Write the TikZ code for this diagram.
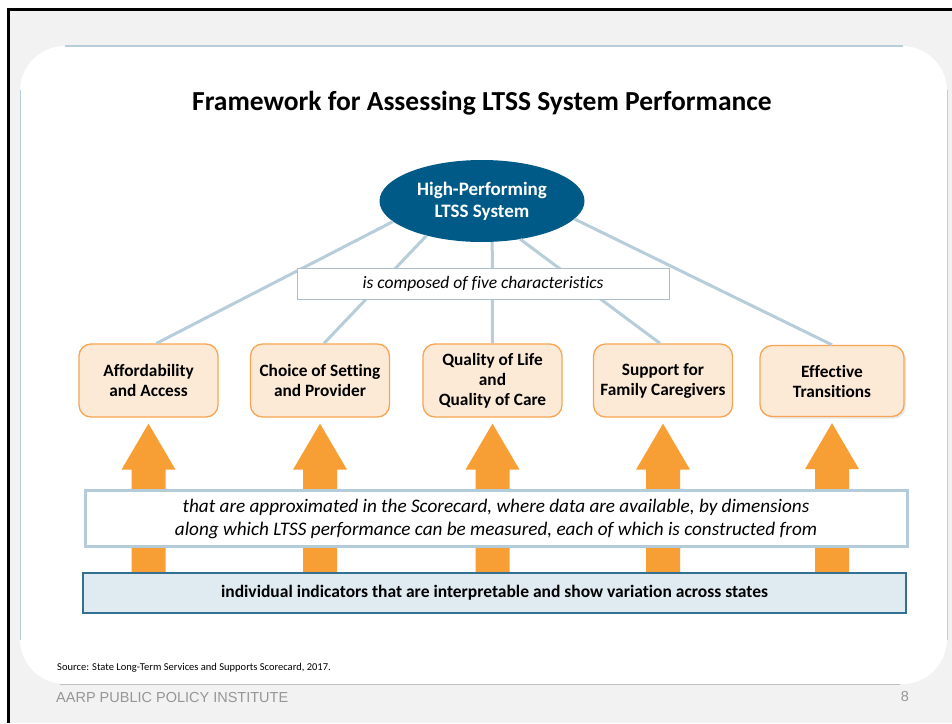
\documentclass[tikz,border=0pt]{standalone}
\usepackage{fontspec}
\setmainfont{Carlito}[Ligatures=NoCommon]
\newfontfamily\arialfont{Liberation Sans}
\usetikzlibrary{shapes.geometric,shadows,calc}
\definecolor{slidegrey}{RGB}{242,242,242}
\definecolor{sysblue}{RGB}{0,90,135}
\definecolor{linkblue}{RGB}{183,206,218}
\definecolor{boxorange}{RGB}{247,165,82}
\definecolor{boxpeach}{RGB}{253,234,214}
\definecolor{arroworange}{RGB}{247,158,52}
\definecolor{apxedge}{RGB}{180,204,218}
\definecolor{compedge}{RGB}{170,190,205}
\definecolor{indfill}{RGB}{223,234,241}
\definecolor{indedge}{RGB}{52,112,145}
\definecolor{footgrey}{RGB}{150,150,150}
\begin{document}
\begin{tikzpicture}[x=1pt,y=-1pt,
  linkline/.style={draw=linkblue,line width=3pt},
  charbox/.style={draw=boxorange,line width=1.3pt,fill=boxpeach,rounded corners=12pt,
    minimum width=139pt,minimum height=73pt,inner sep=0pt,align=center,
    font=\fontsize{17.3}{20}\selectfont\bfseries},
  fatarrow/.style={fill=arroworange}]
% Fondo
\useasboundingbox (0,0) rectangle (952,723);
\fill[white] (0,0) rectangle (952,723);
\fill[slidegrey] (8,9) rectangle (952,723);
\draw[black,line width=3pt] (8,723) -- (8,9) -- (952,9);
\fill[white,rounded corners=45pt] (20,46) rectangle (947,684);
\draw[linkblue,line width=1.2pt] (65,46) -- (903,46);
\draw[linkblue,line width=0.8pt] (20,90) -- (20,640);
\draw[black!20,line width=0.8pt] (947,90) -- (947,640);
\draw[black!25,line width=1pt] (60,684) -- (900,684);
% Titulo
\node (Title) at (482,103) {\fontsize{27.5}{32}\selectfont\bfseries Framework for Assessing LTSS System Performance};
% Sistema
\node[ellipse,fill=sysblue,text=white,minimum width=205pt,minimum height=82pt,inner sep=0pt,
  align=center,font=\fontsize{19}{22}\selectfont\bfseries] (System) at (482,201)
  {High-Performing\\LTSS System};
% Caracteristicas
\node[charbox] (Afford) at (148.5,380.5) {Affordability\\and Access};
\node[charbox] (Choice) at (320,380.5) {Choice of Setting\\and Provider};
\node[charbox] (Quality) at (492.5,380.5) {Quality of Life\\and\\Quality of Care};
\node[charbox] (Support) at (663,380.5) {Support for\\Family Caregivers};
\node[charbox,minimum width=144pt,minimum height=71pt,
  drop shadow={shadow xshift=2pt,shadow yshift=-2pt,opacity=0.18}] (Transit) at (832,381) {Effective\\Transitions};
% Lineas
\draw[linkline] (System.193) -- ([xshift=8pt]Afford.north);
\draw[linkline] (System.212) -- ([xshift=4pt]Choice.north);
\draw[linkline] (System.284) -- (Quality.north);
\draw[linkline] (System.315) -- ([xshift=-3pt]Support.north);
\draw[linkline] (System.349) -- (Transit.north);
\node[draw=compedge,line width=1pt,fill=white,minimum width=372pt,minimum height=31pt,inner sep=0pt,
  font=\fontsize{17.5}{19}\selectfont\itshape] (Composed) at (483,283.5) {is composed of five characteristics};
% Flechas
\node[minimum width=823pt,minimum height=40pt,inner sep=0pt] (Indicators) at (494.5,593) {};
\foreach \c in {Afford,Choice,Quality,Support,Transit}
  \fill[fatarrow] let \p1=(\c.south), \p2=(Indicators.north) in
    (\x1-17pt,\y2) -- (\x1-17pt,\y1-52pt) -- (\x1-27pt,\y1-52pt) -- (\x1,\y1-6pt)
    -- (\x1+27pt,\y1-52pt) -- (\x1+17pt,\y1-52pt) -- (\x1+17pt,\y2) -- cycle;
% Cajas de abajo
\node[draw=apxedge,line width=3pt,fill=white,minimum width=822pt,minimum height=56pt,inner sep=0pt,
  align=center,font=\fontsize{19.2}{23}\selectfont\itshape] (Approx) at (496,518.5)
  {that are approximated in the Scorecard, where data are available, by dimensions\\
   along which LTSS performance can be measured, each of which is constructed from};
\node[draw=indedge,line width=1.5pt,fill=indfill,minimum width=823pt,minimum height=40pt,inner sep=0pt,
  font=\fontsize{17.5}{19}\selectfont\bfseries] at (Indicators)
  {individual indicators that are interpretable and show variation across states};
% Pie
\node[anchor=west,inner sep=0pt,font=\fontsize{10.5}{13}\selectfont] (Source) at (57,668)
  {Source: State Long-Term Services and Supports Scorecard, 2017.};
\node[anchor=west,inner sep=0pt,text=footgrey,font=\arialfont\fontsize{14.5}{16}\selectfont] (Institute) at (56,697)
  {AARP PUBLIC POLICY INSTITUTE};
\node[inner sep=0pt,text=footgrey,font=\arialfont\fontsize{14.5}{16}\selectfont] (Page) at (905,696) {8};
\end{tikzpicture}
\end{document}
